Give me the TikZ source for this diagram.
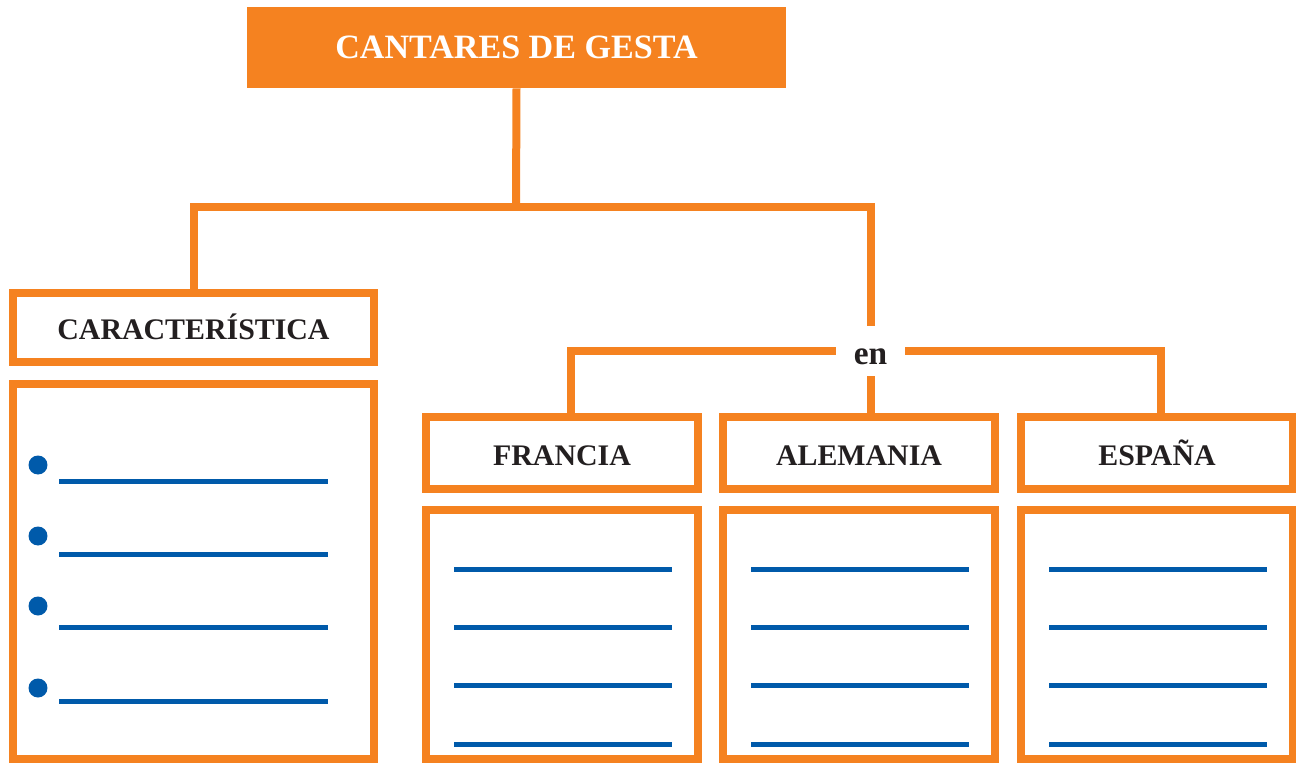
\documentclass[tikz,border=0pt]{standalone}
\usepackage{fontspec}
\setmainfont{Liberation Serif}
\definecolor{myorange}{RGB}{245,130,32}
\definecolor{myblue}{RGB}{0,90,170}
\definecolor{mydark}{RGB}{35,31,32}
\newcommand*{\labelstyle}{\fontsize{17}{20}\selectfont\bfseries\color{mydark}}
\newcommand{\answerlines}[1]{%
   % four empty writing lines inside the box #1
   \draw[blankline] (#1.center) ++(-108,-65.5) -- ++(218,0);
   \draw[blankline] (#1.center) ++(-108,-7.5)  -- ++(218,0);
   \draw[blankline] (#1.center) ++(-108,50.5)  -- ++(218,0);
   \draw[blankline] (#1.center) ++(-108,109.5) -- ++(218,0);
}

\begin{document}
\begin{tikzpicture}[x=0.02cm, y=-0.02cm,
   box/.style = {draw=myorange, line width=0.16cm, fill=white,
                 inner sep=0, text height=0.58cm, text depth=0.1cm, font=\labelstyle},
   link/.style = {draw=myorange, line width=0.16cm},
   blankline/.style = {draw=myblue, line width=0.1cm}]

   \useasboundingbox (0,0) rectangle (1296,764);

   % title
   \node[fill=myorange, inner sep=0, minimum width=10.78cm, minimum height=1.62cm,
         font=\fontsize{19.4}{23}\selectfont\bfseries, text=white]
         (title) at (516.5,47.5) {CANTARES DE GESTA};

   % left branch
   \node[box, minimum width=7.22cm, minimum height=1.38cm] (carac) at (193.5,327.5) {CARACTERÍSTICA};
   \node[box, minimum width=7.22cm, minimum height=7.5cm]  (list)  at (193.5,571.5) {};

   % right branch
   \node[inner sep=0, minimum width=1.38cm, minimum height=1cm, text height=0.56cm, text depth=0cm,
         font=\fontsize{19}{22}\selectfont\bfseries, text=mydark] (en) at (870.5,351) {en};

   \node[box, minimum width=5.44cm, minimum height=1.44cm] (francia)  at (562,453)  {FRANCIA};
   \node[box, minimum width=5.44cm, minimum height=1.44cm] (alemania) at (859,453)  {ALEMANIA};
   \node[box, minimum width=5.44cm, minimum height=1.44cm] (espana)   at (1157,453) {ESPAÑA};

   \node[box, minimum width=5.44cm, minimum height=4.98cm] (francialist)  at (562,634.5)  {};
   \node[box, minimum width=5.44cm, minimum height=4.98cm] (alemanialist) at (859,634.5)  {};
   \node[box, minimum width=5.44cm, minimum height=4.98cm] (espanalist)   at (1157,634.5) {};

   % connectors
   \coordinate (split) at (516,207);
   \draw[link] (title.south) -- (split);
   \draw[link] (carac.north) |- (split);
   \draw[link] (split) -| (en.north);
   \draw[link] (en.west) -| ([xshift=0.18cm]francia.north);
   \draw[link] (en.east) -| ([xshift=0.08cm]espana.north);
   \draw[link] (en.south) -- (en.south |- alemania.north);

   % bullets of the list
   \fill[myblue] (38,465) circle (0.19cm);
   \fill[myblue] (38,536) circle (0.19cm);
   \fill[myblue] (38,606) circle (0.19cm);
   \fill[myblue] (38,688) circle (0.19cm);
   \draw[blankline] (59,481) -- (328,481);
   \draw[blankline] (59,554) -- (328,554);
   \draw[blankline] (59,627) -- (328,627);
   \draw[blankline] (59,701) -- (328,701);

   \answerlines{francialist}
   \answerlines{alemanialist}
   \answerlines{espanalist}

\end{tikzpicture}
\end{document}
